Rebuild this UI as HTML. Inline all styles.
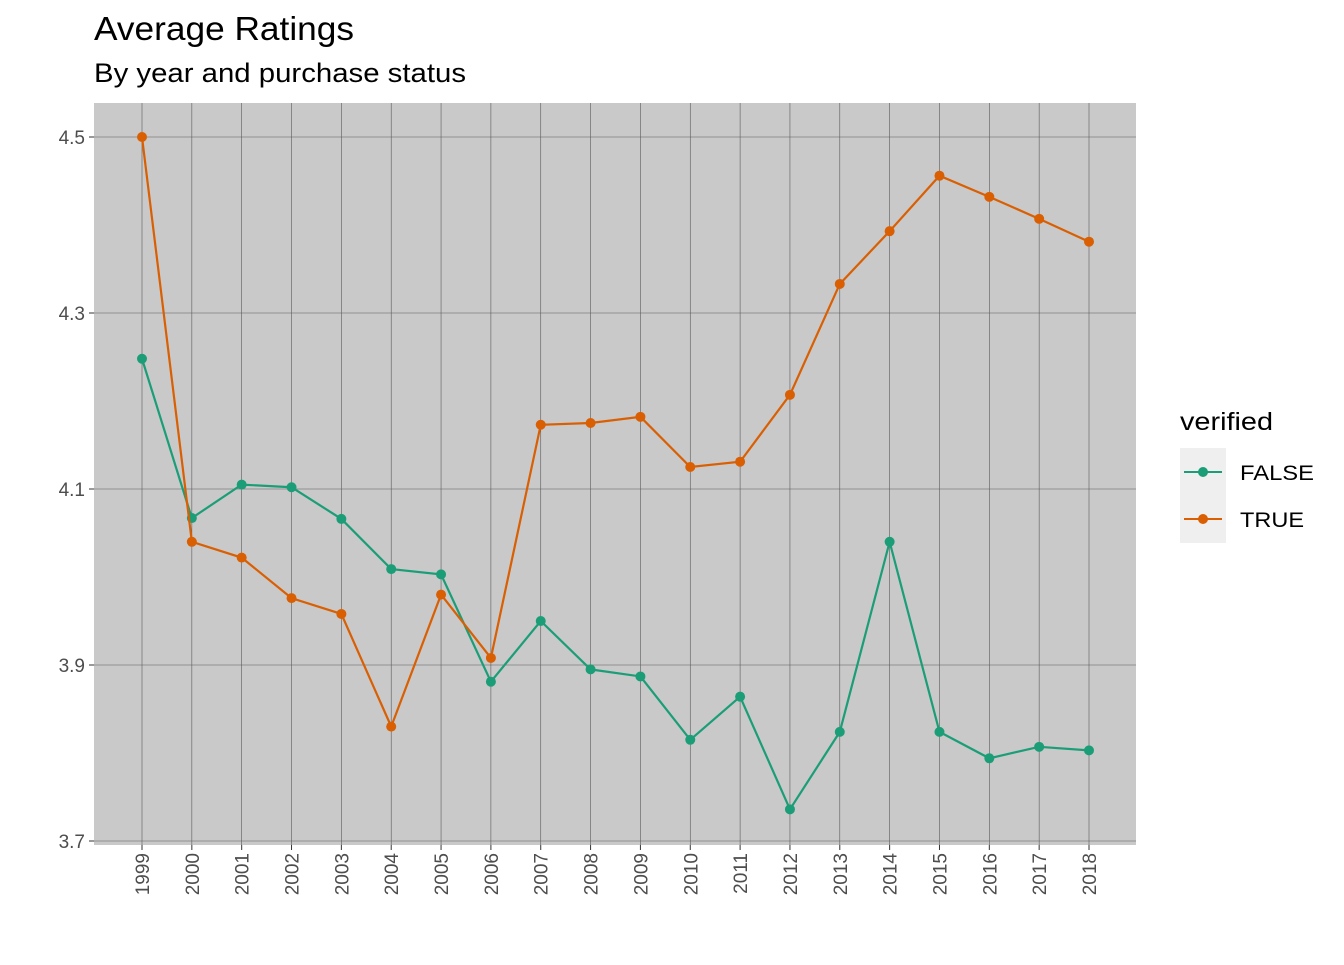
<!DOCTYPE html>
<html><head><meta charset="utf-8"><style>
body{margin:0;background:#fff;font-family:"Liberation Sans",Arial,sans-serif;}
svg text{font-family:"Liberation Sans",Arial,sans-serif;}
</style></head><body>
<svg id="chart" width="1344" height="960" xmlns="http://www.w3.org/2000/svg">
<text x="94" y="40" font-size="33" textLength="260" lengthAdjust="spacingAndGlyphs" fill="#000">Average Ratings</text>
<text x="94" y="82" font-size="27" textLength="372" lengthAdjust="spacingAndGlyphs" fill="#000">By year and purchase status</text>
<rect x="94" y="103" width="1042" height="742" fill="#c9c9c9"/>
<g id="grid"></g><g id="axes"></g><g id="series"></g>
<g>
<text x="1180" y="430" font-size="25" textLength="93" lengthAdjust="spacingAndGlyphs" fill="#000">verified</text>
<rect x="1180" y="448" width="46" height="95" fill="#efefef"/>
<g>
<line x1="1184" y1="472" x2="1222" y2="472" stroke="#1b9e77" stroke-width="2"/><circle cx="1203" cy="472" r="5" fill="#1b9e77"/>
<text x="1240" y="480" font-size="21" textLength="74" lengthAdjust="spacingAndGlyphs" fill="#000">FALSE</text></g>
<g>
<line x1="1184" y1="519" x2="1222" y2="519" stroke="#d95f02" stroke-width="2"/><circle cx="1203" cy="519" r="5" fill="#d95f02"/>
<text x="1240" y="527" font-size="21" textLength="64" lengthAdjust="spacingAndGlyphs" fill="#000">TRUE</text></g>
</g>
</svg>
<script>
const years=[1999,2000,2001,2002,2003,2004,2005,2006,2007,2008,2009,2010,2011,2012,2013,2014,2015,2016,2017,2018];
const falseVals=[4.248,4.067,4.105,4.102,4.066,4.009,4.003,3.881,3.950,3.895,3.887,3.815,3.864,3.736,3.824,4.040,3.824,3.794,3.807,3.803];
const trueVals=[4.500,4.040,4.022,3.976,3.958,3.830,3.980,3.908,4.173,4.175,4.182,4.125,4.131,4.207,4.333,4.393,4.456,4.432,4.407,4.381];
const yTicks=[3.7,3.9,4.1,4.3,4.5];
const NS="http://www.w3.org/2000/svg";
function xPos(i){return 142+i*(1089-142)/(years.length-1);}
function yPos(v){return 137+(4.5-v)*880;}
function mk(t,a,p){const e=document.createElementNS(NS,t);for(const k in a)e.setAttribute(k,a[k]);p.appendChild(e);return e;}
const grid=document.getElementById('grid'),axes=document.getElementById('axes'),ser=document.getElementById('series');
yTicks.forEach(v=>{const y=yPos(v);
const l=mk('line',{x1:94,x2:1136,y1:y,y2:y,stroke:'#5a5a5a','stroke-width':0.6},grid);


mk('line',{x1:89,x2:94,y1:y,y2:y,stroke:'#333','stroke-width':1},axes);
const t=mk('text',{x:85,y:y+7,'text-anchor':'end','font-size':19,fill:'#4d4d4d'},axes);t.textContent=v.toFixed(1);


});
years.forEach((yr,i)=>{const x=xPos(i);
const l=mk('line',{x1:x,x2:x,y1:103,y2:845,stroke:'#5a5a5a','stroke-width':0.6},grid);


mk('line',{x1:x,x2:x,y1:845,y2:850,stroke:'#333','stroke-width':1},axes);
const t=mk('text',{x:0,y:0,'text-anchor':'end','font-size':19,fill:'#4d4d4d',transform:`translate(${x+7},853) rotate(-90)`},axes);t.textContent=yr;


});
function drawSeries(vals,color,name){
const pts=vals.map((v,i)=>xPos(i)+','+yPos(v)).join(' ');
const pl=mk('polyline',{points:pts,fill:'none',stroke:color,'stroke-width':2.2},ser);


vals.forEach((v,i)=>{const c=mk('circle',{cx:xPos(i),cy:yPos(v),r:5,fill:color},ser);

});
}
drawSeries(falseVals,'#1b9e77','false-series');
drawSeries(trueVals,'#d95f02','true-series');
</script>
</body></html>
